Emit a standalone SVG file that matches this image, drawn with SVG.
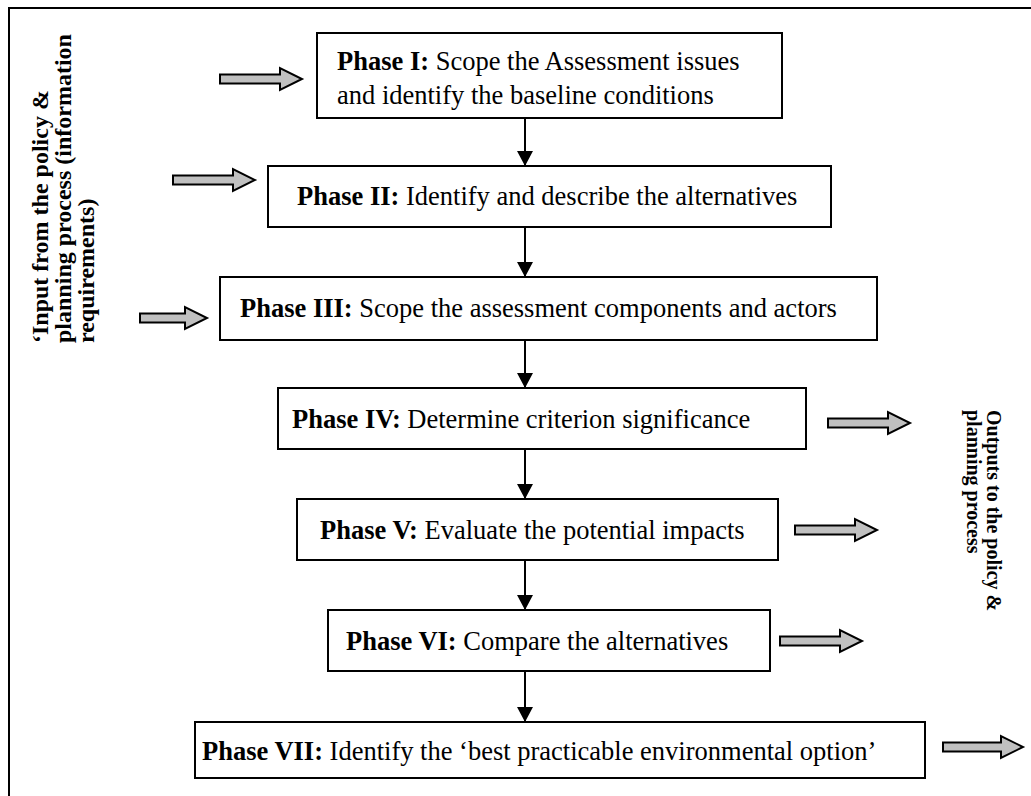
<svg xmlns="http://www.w3.org/2000/svg" width="1031" height="796" viewBox="0 0 1031 796">
<style>
.box{fill:#fff;stroke:#000;stroke-width:2}
.t{font-family:"Liberation Serif","Times New Roman",serif;font-size:26.5px;fill:#000}
.b{font-weight:bold}
.side{font-family:"Liberation Serif","Times New Roman",serif;font-weight:bold;fill:#000}
.blk{fill:#c0c0c0;stroke:#000;stroke-width:2;stroke-linejoin:miter}
.con{stroke:#000;stroke-width:2;fill:none}
</style>
<defs>
<marker id="ah" markerUnits="userSpaceOnUse" markerWidth="16" markerHeight="16" refX="15" refY="8" orient="auto">
<path d="M0,0 L15,8 L0,16 Z" fill="#000"/>
</marker>
</defs>
<rect width="1031" height="796" fill="#fff"/>
<path d="M9,796 V8 H1031" fill="none" stroke="#000" stroke-width="2"/>
<g id="input-label">
<text class="side" font-size="24" transform="translate(48,343) rotate(-90)"><tspan x="0" y="0">‘Input from the policy &amp;</tspan><tspan x="0" y="23">planning process (information</tspan><tspan x="0" y="46">requirements)</tspan></text>
</g>
<g id="output-label">
<text class="side" font-size="20" transform="translate(987,410) rotate(90)"><tspan x="0" y="0">Outputs to the policy &amp;</tspan><tspan x="0" y="20">planning process</tspan></text>
</g>
<g id="connectors">
<line class="con" x1="525" y1="118" x2="525" y2="166" marker-end="url(#ah)"/>
<line class="con" x1="525" y1="227" x2="525" y2="277" marker-end="url(#ah)"/>
<line class="con" x1="525" y1="340" x2="525" y2="388" marker-end="url(#ah)"/>
<line class="con" x1="525" y1="449" x2="525" y2="499" marker-end="url(#ah)"/>
<line class="con" x1="525" y1="560" x2="525" y2="610" marker-end="url(#ah)"/>
<line class="con" x1="525" y1="671" x2="525" y2="722" marker-end="url(#ah)"/>
<path class="blk" d="M220,74.5 H280 V68 L302,79 L280,90 V83.5 H220 Z"/>
<path class="blk" d="M173,175.5 H233 V169 L255,180 L233,191 V184.5 H173 Z"/>
<path class="blk" d="M140,313.5 H185 V307 L207,318 L185,329 V322.5 H140 Z"/>
<path class="blk" d="M828,418.5 H888 V412 L910,423 L888,434 V427.5 H828 Z"/>
<path class="blk" d="M795,525.5 H855 V519 L877,530 L855,541 V534.5 H795 Z"/>
<path class="blk" d="M780,636.5 H840 V630 L862,641 L840,652 V645.5 H780 Z"/>
<path class="blk" d="M943,742.5 H1001 V736 L1023,747 L1001,758 V751.5 H943 Z"/>
</g>
<g id="phase1">
<rect class="box" x="317" y="33" width="465" height="85"/>
<text class="t" x="337" y="70"><tspan class="b">Phase I:</tspan> Scope the Assessment issues</text>
<text class="t" x="337" y="104">and identify the baseline conditions</text>
</g>
<g id="phase2">
<rect class="box" x="268" y="166" width="563" height="61"/>
<text class="t" x="297" y="205"><tspan class="b">Phase II:</tspan> Identify and describe the alternatives</text>
</g>
<g id="phase3">
<rect class="box" x="220" y="277" width="657" height="63"/>
<text class="t" x="240" y="317"><tspan class="b">Phase III:</tspan> Scope the assessment components and actors</text>
</g>
<g id="phase4">
<rect class="box" x="278" y="388" width="528" height="61"/>
<text class="t" x="292" y="428"><tspan class="b">Phase IV:</tspan> Determine criterion significance</text>
</g>
<g id="phase5">
<rect class="box" x="297" y="499" width="481" height="61"/>
<text class="t" x="320" y="539"><tspan class="b">Phase V:</tspan> Evaluate the potential impacts</text>
</g>
<g id="phase6">
<rect class="box" x="328" y="610" width="442" height="61"/>
<text class="t" x="346" y="650"><tspan class="b">Phase VI:</tspan> Compare the alternatives</text>
</g>
<g id="phase7">
<rect class="box" x="195" y="722" width="730" height="56"/>
<text class="t" x="202" y="760"><tspan class="b">Phase VII:</tspan> Identify the ‘best practicable environmental option’</text>
</g>
</svg>
